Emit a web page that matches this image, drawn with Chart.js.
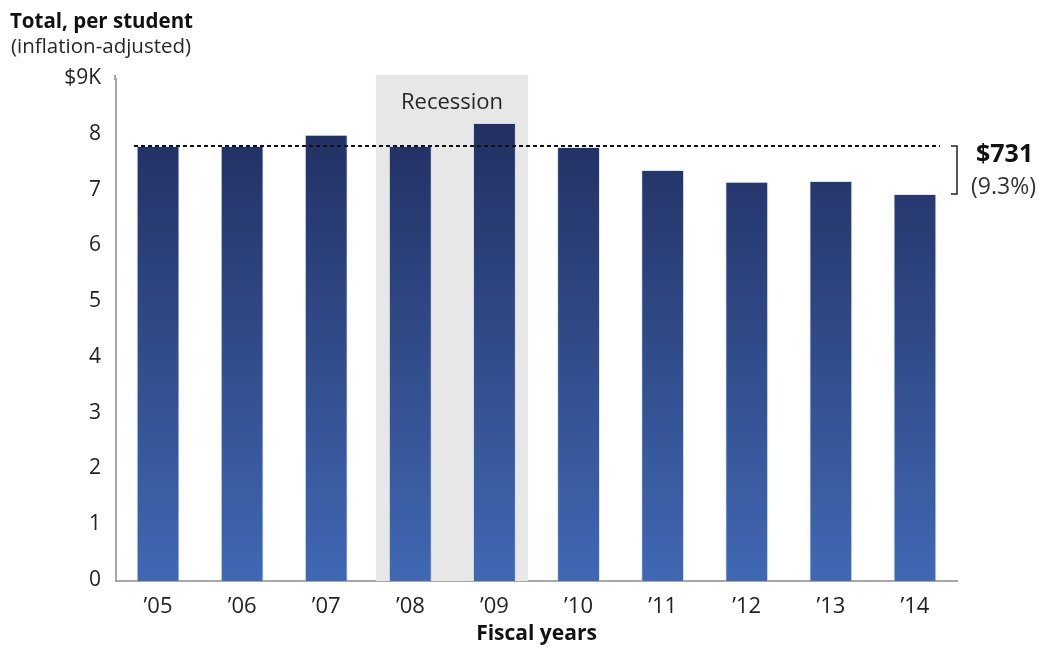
<!DOCTYPE html>
<html>
<head>
<meta charset="utf-8">
<script src="https://cdn.jsdelivr.net/npm/chart.js@4.4.1/dist/chart.umd.min.js"></script>
<style>
  html, body { margin: 0; padding: 0; background: #fff; }
  #wrap { width: 1045px; height: 647px; position: relative; }
</style>
</head>
<body>
<div id="wrap"><canvas id="chart" width="1045" height="647"></canvas></div>
<script>
// Dados do gráfico
const years = ['’05', '’06', '’07', '’08', '’09', '’10', '’11', '’12', '’13', '’14'];
const perStudent = [7.80, 7.80, 8.00, 7.80, 8.21, 7.78, 7.37, 7.16, 7.17, 6.94];
const yTicks = [0, 1, 2, 3, 4, 5, 6, 7, 8, 9];
const recessionYears = ['’08', '’09'];
const dropLabel = '$731';
const dropPct = '(9.3%)';

const FONT = '"Open Sans", "Noto Sans", sans-serif';

// Faixa da recessão + texto
const recessionPlugin = {
    id: 'recession',
    beforeDatasetsDraw(chart) {
        const { ctx, scales: { x, y } } = chart;
        const cat = x.getPixelForValue(1) - x.getPixelForValue(0);
        const x0 = x.getPixelForValue(years.indexOf(recessionYears[0])) - cat * 0.41;
        const x1 = x.getPixelForValue(years.indexOf(recessionYears[1])) + cat * 0.4;
        const top = y.getPixelForValue(9) - 4;
        ctx.save();
        ctx.fillStyle = '#e7e7e7';
        ctx.fillRect(x0, top, x1 - x0, y.getPixelForValue(0) - top);
        // prolongar o eixo y um pouco acima do 9
        ctx.fillStyle = '#a6a6a6';
        ctx.fillRect(x.left - 2, top, 2, 5);
        ctx.fillStyle = '#262626';
        ctx.font = '22px ' + FONT;
        ctx.textAlign = 'center';
        ctx.textBaseline = 'middle';
        ctx.fillText('Recession', (x0 + x1) / 2, top + 28);
        ctx.restore();
    }
};

// Linha tracejada, colchete e títulos
const annotPlugin = {
    id: 'annot',
    afterDatasetsDraw(chart) {
        const { ctx, scales: { x, y } } = chart;
        const yBase = y.getPixelForValue(perStudent[0]);
        const yLast = y.getPixelForValue(perStudent[perStudent.length - 1]);
        ctx.save();
        ctx.strokeStyle = '#111';
        ctx.lineWidth = 2;
        ctx.setLineDash([4, 3]);
        ctx.beginPath();
        ctx.moveTo(x.left + 18, yBase);
        ctx.lineTo(940, yBase);
        ctx.stroke();

        ctx.setLineDash([]);
        ctx.lineWidth = 1.5;
        ctx.strokeStyle = '#222';
        ctx.beginPath();
        ctx.moveTo(951, yBase);
        ctx.lineTo(957, yBase);
        ctx.lineTo(957, yLast);
        ctx.lineTo(951, yLast);
        ctx.stroke();

        ctx.fillStyle = '#111';
        ctx.textAlign = 'left';
        ctx.textBaseline = 'middle';
        ctx.font = 'bold 25px ' + FONT;
        ctx.fillText(dropLabel, 976, 155);
        ctx.fillStyle = '#333';
        ctx.font = '23px ' + FONT;
        ctx.fillText(dropPct, 971, 187);

        ctx.fillStyle = '#111';
        ctx.font = 'bold 20.5px ' + FONT;
        ctx.fillText('Total, per student', 10, 22);
        ctx.fillStyle = '#262626';
        ctx.font = '20.5px ' + FONT;
        ctx.fillText('(inflation-adjusted)', 11, 47);
        ctx.restore();
    }
};

function barGradient(context) {
    const chart = context.chart;
    const area = chart.chartArea;
    if (!area) return '#2f4a8a';
    const g = chart.ctx.createLinearGradient(0, area.top, 0, area.bottom);
    g.addColorStop(0, '#1f2a5a');
    g.addColorStop(1, '#4068b3');
    return g;
}

new Chart(document.getElementById('chart'), {
    type: 'bar',
    data: {
        labels: years,
        datasets: [{
            data: perStudent,
            backgroundColor: barGradient,
            borderColor: 'rgba(190,205,235,0.55)',
            borderWidth: 1,
            borderSkipped: 'bottom',
            categoryPercentage: 1,
            barPercentage: 0.51
        }]
    },
    options: {
        responsive: false,
        animation: false,
        layout: { padding: { top: 79, right: 88, left: 0, bottom: 0 } },
        plugins: { legend: { display: false }, tooltip: { enabled: false } },
        scales: {
            x: {
                grid: { display: false, drawTicks: false },
                border: { color: '#a6a6a6', width: 2 },
                ticks: { color: '#222', font: { family: FONT, size: 22 }, padding: 13 },
                title: {
                    display: true, text: 'Fiscal years', color: '#111',
                    font: { family: FONT, size: 21, weight: 'bold' },
                    padding: { top: 0, bottom: 0 }
                },
                afterFit(scale) { scale.height = 66; }
            },
            y: {
                min: 0, max: 9,
                grid: { display: false, drawTicks: false },
                border: { color: '#a6a6a6', width: 2 },
                afterBuildTicks(scale) { scale.ticks = yTicks.map(v => ({ value: v })); },
                ticks: {
                    color: '#222', font: { family: FONT, size: 21 }, padding: 15, labelOffset: -1,
                    callback: v => (v === 9 ? '$9K' : String(v))
                },
                afterFit(scale) { scale.width = 116; }
            }
        }
    },
    plugins: [recessionPlugin, annotPlugin]
});
</script>
</body>
</html>
